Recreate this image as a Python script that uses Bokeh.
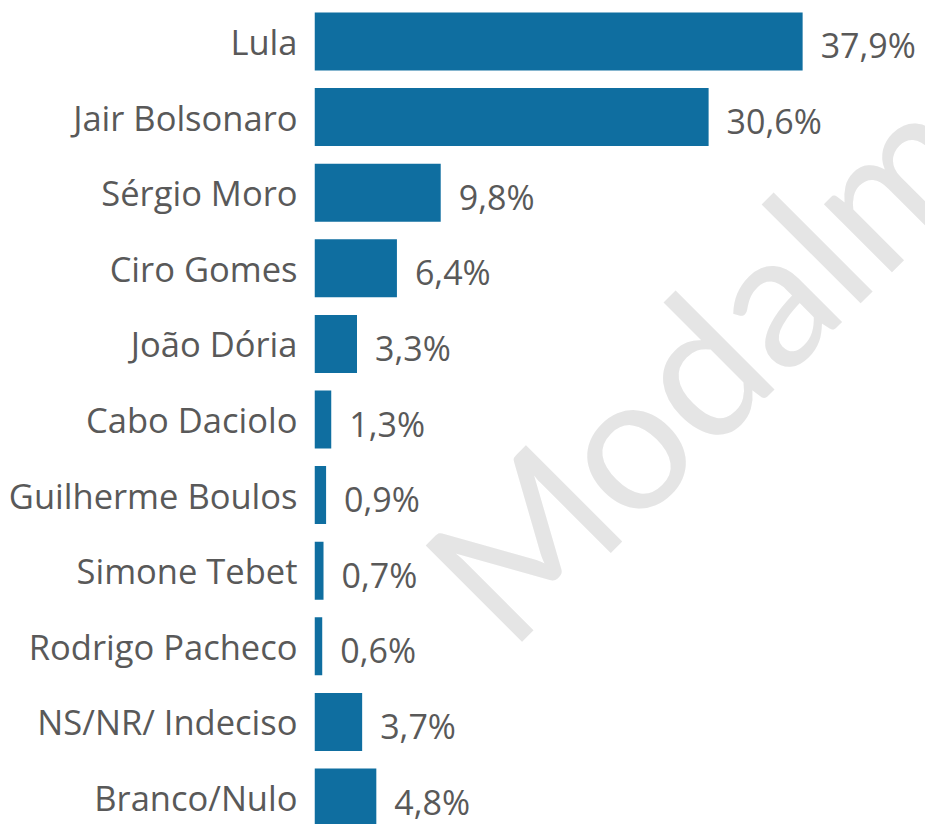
from bokeh.plotting import figure
from bokeh.models import Range1d, FixedTicker, ColumnDataSource
from bokeh.core.properties import value
from bokeh.embed import file_html
from bokeh.resources import INLINE

candidates = ["Lula", "Jair Bolsonaro", "Sérgio Moro", "Ciro Gomes", "João Dória",
              "Cabo Daciolo", "Guilherme Boulos", "Simone Tebet", "Rodrigo Pacheco",
              "NS/NR/ Indeciso", "Branco/Nulo"]
percent = [37.9, 30.6, 9.8, 6.4, 3.3, 1.3, 0.9, 0.7, 0.6, 3.7, 4.8]
labels = ["37,9%", "30,6%", "9,8%", "6,4%", "3,3%", "1,3%", "0,9%", "0,7%", "0,6%", "3,7%", "4,8%"]
watermark = "Modalmais"

rows = list(range(len(candidates)))
src = ColumnDataSource(dict(y=rows, v=percent, lab=labels))

FONT = "Open Sans"
TEXT_COLOR = "#595959"
BAR_COLOR = "#0f6ea0"

p = figure(width=925, height=824, output_backend="svg", toolbar_location=None,
           x_range=Range1d(0, 47.44), y_range=Range1d(10.357, -0.5423),
           min_border_left=314, min_border_right=0, min_border_top=0, min_border_bottom=0,
           x_axis_location=None)
p.outline_line_color = None
p.grid.visible = False
p.background_fill_color = "white"
p.border_fill_color = "white"

# watermark (decoration)
p.text(x=[11.1], y=[7.41], text=[watermark], angle=0.785, text_align="left",
       text_baseline="alphabetic", text_font=value("Lato"), text_font_size="190px",
       text_color="#e5e5e5", level="underlay")

p.hbar(y="y", right="v", left=0, height=0.767, source=src, color=BAR_COLOR, line_color=None)
p.text(x="v", y="y", text="lab", source=src, x_offset=18, y_offset=4,
       text_align="left", text_baseline="middle", text_font=value(FONT),
       text_font_size="34px", text_color=TEXT_COLOR)

ax = p.yaxis[0]
ax.ticker = FixedTicker(ticks=rows)
ax.major_label_overrides = {i: c for i, c in zip(rows, candidates)}
ax.axis_line_color = None
ax.major_tick_line_color = None
ax.minor_tick_line_color = None
ax.major_tick_out = 0
ax.major_tick_in = 0
ax.major_label_standoff = 17
ax.major_label_text_font = FONT
ax.major_label_text_font_size = "34.5px"
ax.major_label_text_color = TEXT_COLOR

open("out.html", "w").write(file_html(p, INLINE))
